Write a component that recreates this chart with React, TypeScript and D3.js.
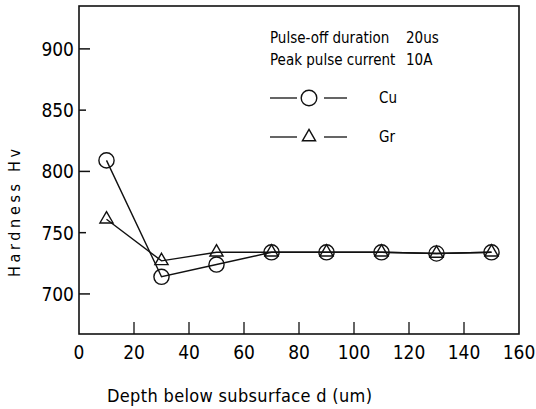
import React, { useEffect, useRef } from 'react';
import * as d3 from 'd3';

const depths = [10, 30, 50, 70, 90, 110, 130, 150];
const cuHardness = [809, 714, 724, 734, 734, 734, 733, 734];
const grHardness = [761, 727, 734, 734, 734, 734, 733, 734];
const xTicks = [0, 20, 40, 60, 80, 100, 120, 140, 160];
const yTicks = [700, 750, 800, 850, 900];
const notes = [
    { label: 'Pulse-off duration', value: '20us' },
    { label: 'Peak pulse current', value: '10A' },
];

const FONT = '"DejaVu Sans Condensed", "Liberation Sans Narrow", sans-serif';

const App = () => {
    const ref = useRef<SVGSVGElement>(null);
    const width = 536;
    const height = 409;

    useEffect(() => {
        const svg = d3.select(ref.current);
        svg.selectAll('*').remove();

        const x = d3.scaleLinear().domain([0, 160]).range([79, 519]);
        const y = d3.scaleLinear().domain([667.3, 935]).range([334, 6]);

        // frame
        svg.append('rect')
            .attr('x', x(0))
            .attr('y', y(935))
            .attr('width', x(160) - x(0))
            .attr('height', y(667.3) - y(935))
            .attr('fill', 'none')
            .attr('stroke', '#111')
            .attr('stroke-width', 1.6);

        // y ticks, inward
        svg.append('g')
            .selectAll('line')
            .data(yTicks)
            .enter()
            .append('line')
            .attr('x1', x(0))
            .attr('x2', d => x(0) + (d % 100 === 0 ? 11 : 7))
            .attr('y1', d => y(d))
            .attr('y2', d => y(d))
            .attr('stroke', '#111')
            .attr('stroke-width', 1.5);

        svg.append('g')
            .attr('text-anchor', 'end')
            .style('font', `19px ${FONT}`)
            .selectAll('text')
            .data(yTicks)
            .enter()
            .append('text')
            .attr('x', 74)
            .attr('y', d => y(d))
            .attr('dy', '0.36em')
            .text(d => d);

        // x ticks, inward
        svg.append('g')
            .selectAll('line')
            .data(xTicks.filter(d => d > 0 && d < 160))
            .enter()
            .append('line')
            .attr('x1', d => x(d))
            .attr('x2', d => x(d))
            .attr('y1', y(667.3))
            .attr('y2', y(667.3) - 12)
            .attr('stroke', '#111')
            .attr('stroke-width', 1.3);

        svg.append('g')
            .attr('text-anchor', 'middle')
            .style('font', `19px ${FONT}`)
            .selectAll('text')
            .data(xTicks)
            .enter()
            .append('text')
            .attr('x', d => x(d))
            .attr('y', 359)
            .text(d => d);

        // axis titles
        svg.append('text')
            .attr('x', 107)
            .attr('y', 402)
            .attr('textLength', 265)
            .attr('lengthAdjust', 'spacing')
            .style('font', `18px ${FONT}`)
            .text('Depth below subsurface d (um)');

        svg.append('text')
            .attr('transform', 'translate(20,213) rotate(-90)')
            .attr('text-anchor', 'middle')
            .attr('textLength', 128)
            .attr('lengthAdjust', 'spacing')
            .style('font', `16px ${FONT}`)
            .text('Hardness  Hv');

        // series lines
        const line = d3
            .line<number>()
            .x((d, i) => x(depths[i]))
            .y(d => y(d));

        [cuHardness, grHardness].forEach(series => {
            svg.append('path')
                .attr('d', line(series))
                .attr('fill', 'none')
                .attr('stroke', '#111')
                .attr('stroke-width', 1.4);
        });

        const tri = d3.symbol().type(d3.symbolTriangle).size(75);

        svg.append('g')
            .selectAll('circle')
            .data(cuHardness)
            .enter()
            .append('circle')
            .attr('cx', (d, i) => x(depths[i]))
            .attr('cy', d => y(d))
            .attr('r', 7.6)
            .attr('fill', 'none')
            .attr('stroke', '#111')
            .attr('stroke-width', 1.4);

        svg.append('g')
            .selectAll('path')
            .data(grHardness)
            .enter()
            .append('path')
            .attr('d', tri)
            .attr('transform', (d, i) => `translate(${x(depths[i])},${y(d)})`)
            .attr('fill', 'none')
            .attr('stroke', '#111')
            .attr('stroke-width', 1.4);

        // notes
        const g = svg.append('g').style('font', `15px ${FONT}`);
        notes.forEach((n, i) => {
            g.append('text').attr('x', 270).attr('y', 43 + i * 22).text(n.label);
            g.append('text').attr('x', 406).attr('y', 43 + i * 22).text(n.value);
        });

        // legend
        const legend = [
            { name: 'Cu', yy: 98, shape: 'circle' },
            { name: 'Gr', yy: 137, shape: 'triangle' },
        ];
        legend.forEach(l => {
            g.append('line')
                .attr('x1', 270).attr('x2', 297)
                .attr('y1', l.yy).attr('y2', l.yy)
                .attr('stroke', '#111').attr('stroke-width', 1.3);
            g.append('line')
                .attr('x1', 324).attr('x2', 347)
                .attr('y1', l.yy).attr('y2', l.yy)
                .attr('stroke', '#111').attr('stroke-width', 1.3);
            if (l.shape === 'circle') {
                g.append('circle')
                    .attr('cx', 309).attr('cy', l.yy).attr('r', 7.8)
                    .attr('fill', 'none').attr('stroke', '#111').attr('stroke-width', 1.4);
            } else {
                g.append('path')
                    .attr('d', tri)
                    .attr('transform', `translate(309,${l.yy})`)
                    .attr('fill', 'none').attr('stroke', '#111').attr('stroke-width', 1.4);
            }
            g.append('text')
                .attr('x', 379)
                .attr('y', l.yy + 5)
                .text(l.name);
        });
    }, []);

    return (
        <div style={{ position: 'absolute', left: 0, top: 0 }}>
            <svg ref={ref} width={width} height={height} style={{ display: 'block', background: '#fff' }} />
        </div>
    );
};

export default App;
